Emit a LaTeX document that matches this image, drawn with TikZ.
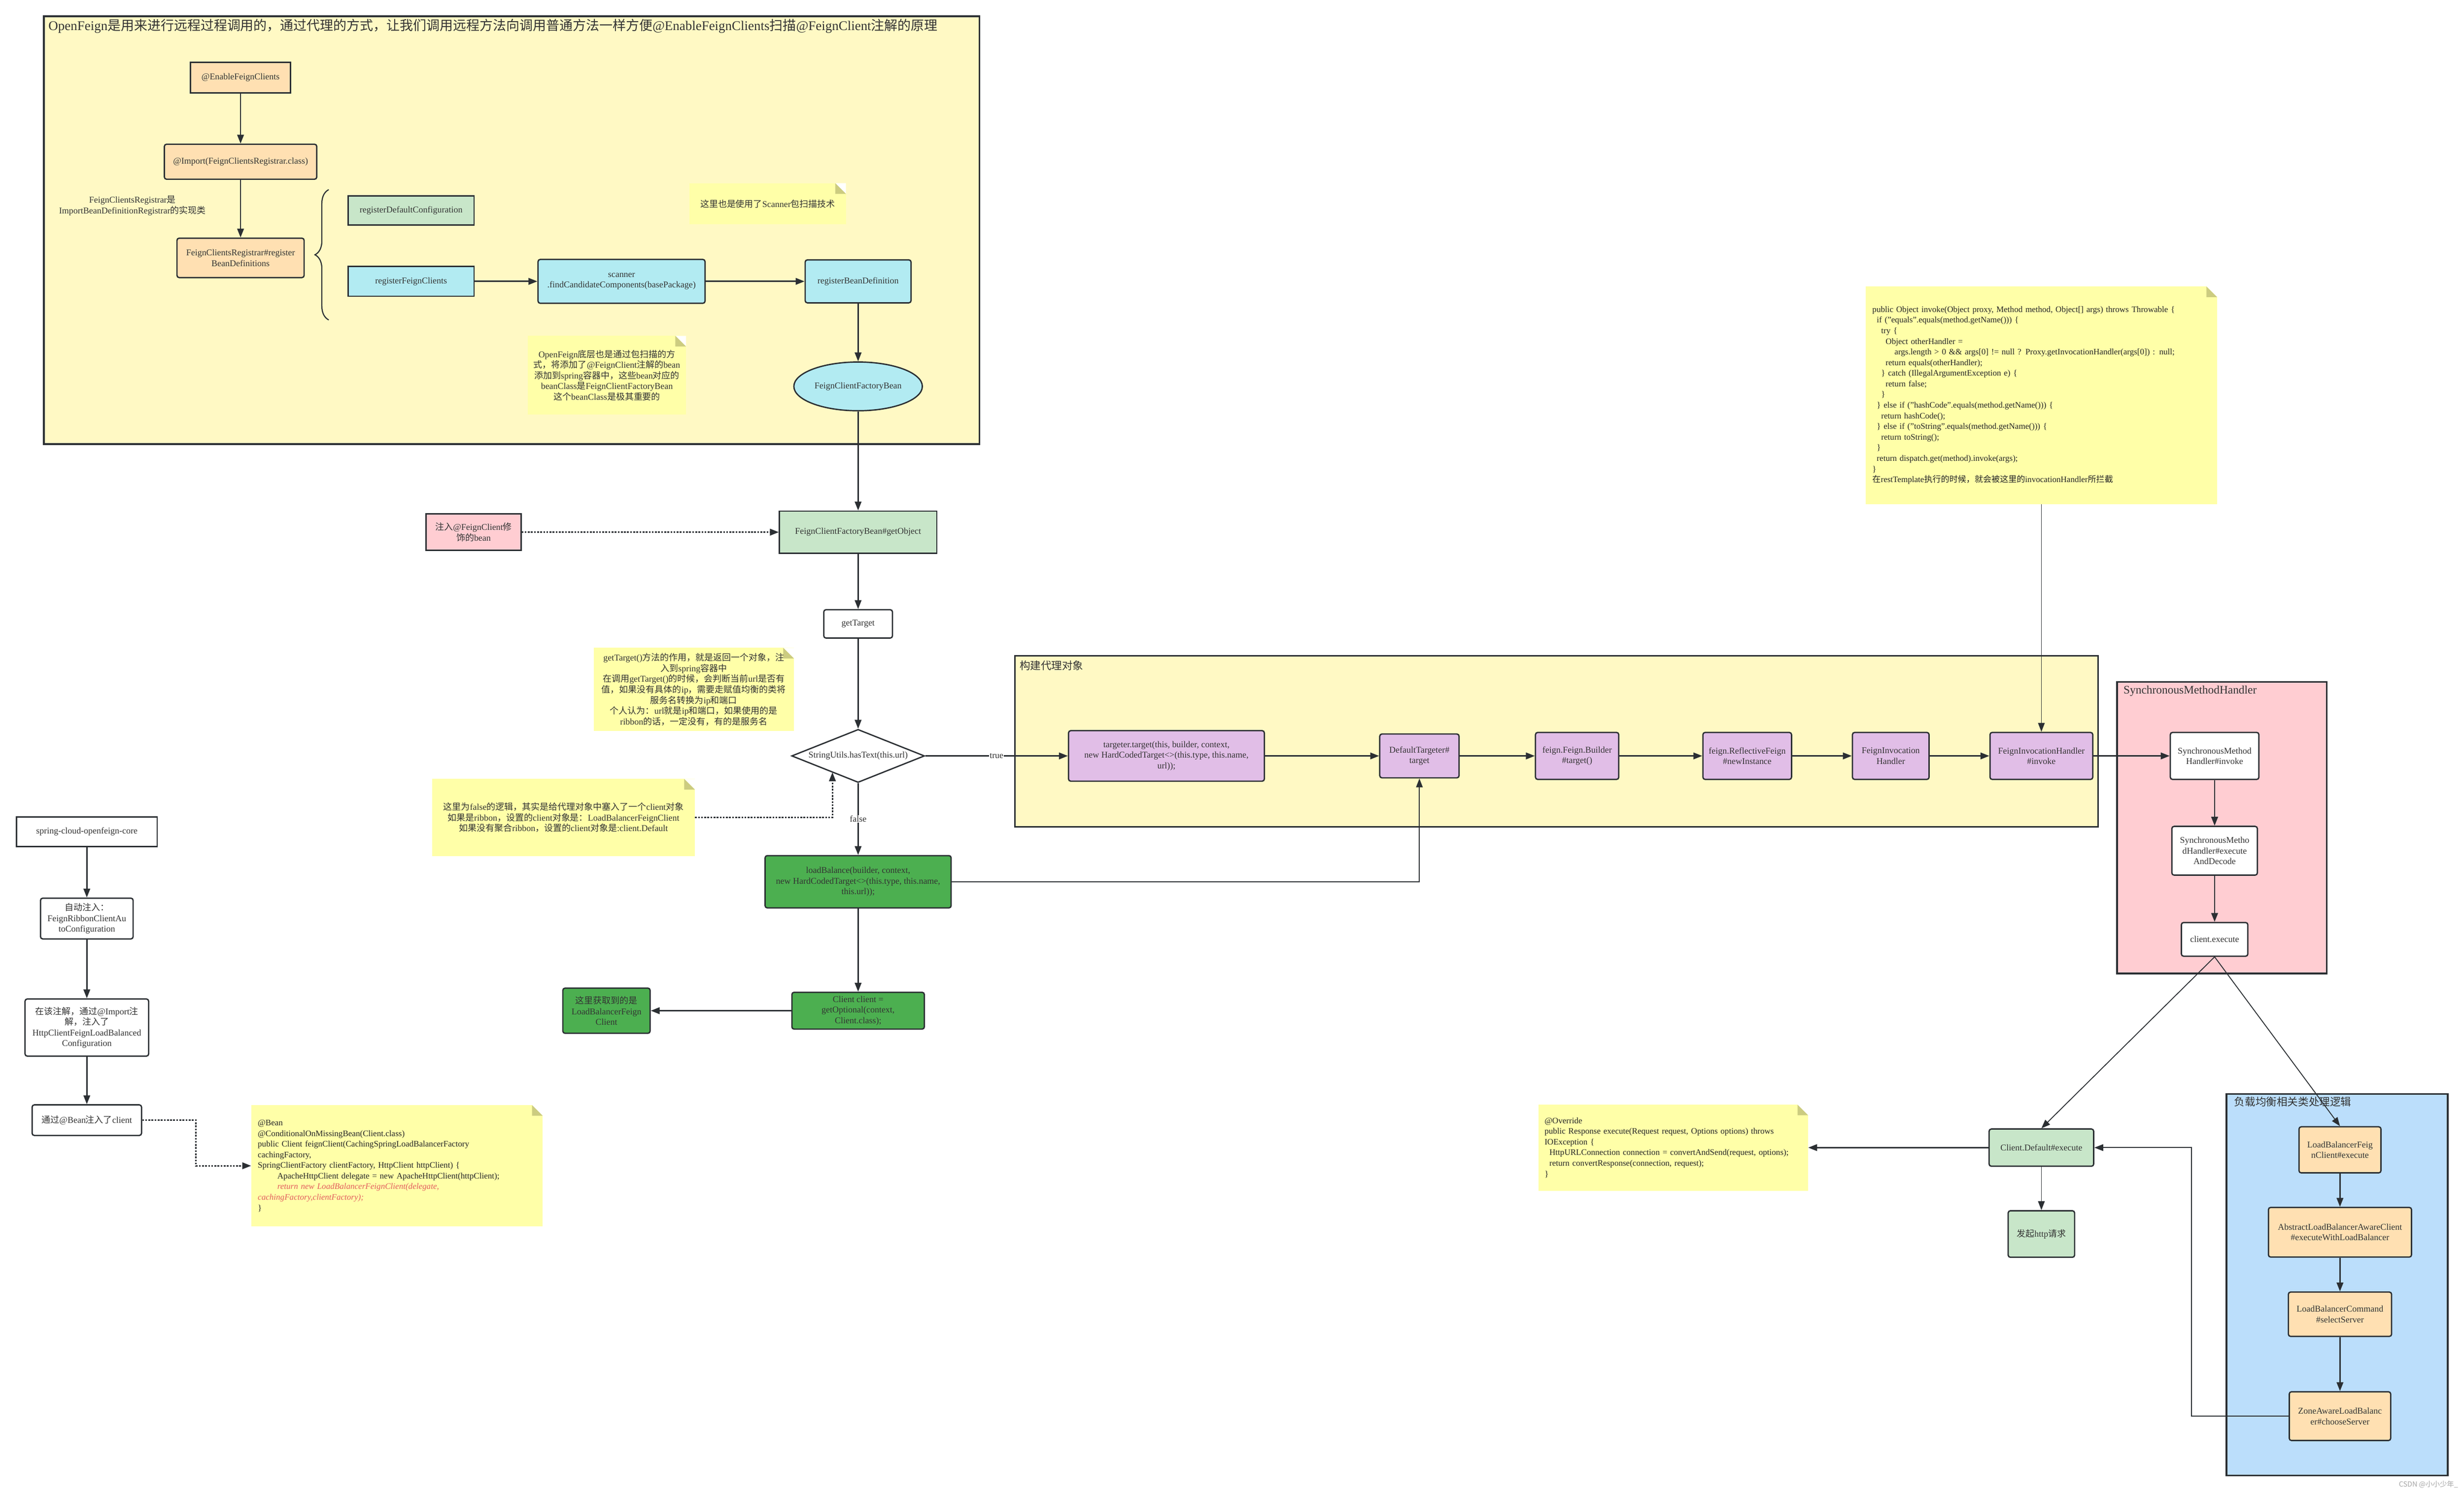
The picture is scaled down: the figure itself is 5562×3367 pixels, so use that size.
\documentclass[tikz,border=0pt]{standalone}
\usepackage{fontspec}
\setmainfont{Liberation Serif}
\newfontfamily\cjk{Noto Sans CJK SC}
\usetikzlibrary{arrows.meta, positioning, shapes.geometric, decorations.pathreplacing}

% switch to the CJK family for Chinese characters
\XeTeXinterchartokenstate=1
\newXeTeXintercharclass\cjkclass
\newcount\cjkcode
\def\setcjkrange#1#2{\cjkcode=#1\relax
  \loop\XeTeXcharclass\cjkcode=\cjkclass
  \ifnum\cjkcode<#2\advance\cjkcode by 1\repeat}
\setcjkrange{"3000}{"303F}
\setcjkrange{"4E00}{"9FFF}
\setcjkrange{"FF00}{"FFEF}
\def\mylatin{\rmfamily}
\XeTeXinterchartoks 0 \cjkclass = {\cjk}
\XeTeXinterchartoks 4095 \cjkclass = {\cjk}
\XeTeXinterchartoks \cjkclass 0 = {\mylatin}
\XeTeXinterchartoks 4095 0 = {\mylatin}

\definecolor{linec}{HTML}{2B2F33}
\definecolor{textc}{HTML}{333333}
\definecolor{panely}{HTML}{FFF9C4}
\definecolor{notey}{HTML}{FFFFA8}
\definecolor{foldc}{HTML}{CCCC80}
\definecolor{orangef}{HTML}{FFE0B2}
\definecolor{cyanf}{HTML}{B2EBF2}
\definecolor{greenl}{HTML}{C8E6C9}
\definecolor{pinkf}{HTML}{FFCDD2}
\definecolor{purplef}{HTML}{E1BEE7}
\definecolor{greend}{HTML}{4CAF50}
\definecolor{bluef}{HTML}{BBDEFB}
\definecolor{codered}{HTML}{E35D5D}

\newcommand\boxfont{\fontsize{20}{24}\selectfont}
\newcommand\codefont{\fontsize{19}{24}\selectfont}
\newcommand\titlefont{\fontsize{30}{36}\selectfont}
\newcommand\panelfont{\fontsize{24}{28}\selectfont}
\newcommand\flagfont{\fontsize{20}{22}\selectfont}

\tikzset{
  box/.style={draw=linec, line width=3pt, text=textc, align=center, inner sep=3pt, font=\boxfont},
  rbox/.style={box, rounded corners=5pt},
  flow/.style={draw=linec, line width=3pt, -{Triangle[length=20pt,width=15pt]}},
  thinflow/.style={flow, line width=2pt},
  dotflow/.style={flow, dash pattern=on 4pt off 3pt},
  panel/.style={draw=linec, line width=4pt},
  paneltitle/.style={font=\panelfont, text=textc, anchor=west},
  flag/.style={fill=white, text=textc, font=\flagfont, inner sep=1pt},
  note/.style={fill=notey, text=textc, font=\boxfont, align=center, inner sep=0pt,
    path picture={
      \fill[white] ([xshift=-24pt]path picture bounding box.north east) -- (path picture bounding box.north east)
        -- ([yshift=-24pt]path picture bounding box.north east) -- cycle;
      \fill[foldc] ([xshift=-24pt]path picture bounding box.north east) -- ([xshift=-24pt,yshift=-24pt]path picture bounding box.north east)
        -- ([yshift=-24pt]path picture bounding box.north east) -- cycle;
    }},
  codenote/.style={note, align=left, font=\codefont, text=black!85},
}

\begin{document}
\begin{tikzpicture}[x=1pt, y=-1pt]
\useasboundingbox (0,0) rectangle (5562,3367);

% panels
\draw[panel, fill=panely] (99,37) rectangle (2211,1002);
\node[font=\titlefont, text=textc, anchor=west] (title) at (106,59) {OpenFeign是用来进行远程过程调用的，通过代理的方式，让我们调用远程方法向调用普通方法一样方便@EnableFeignClients扫描@FeignClient注解的原理};
\draw[panel, fill=panely] (2291,1480) rectangle (4736,1866);
\node[paneltitle] (proxytitle) at (2298,1502) {构建代理对象};
\draw[panel, fill=pinkf] (4779,1539) rectangle (5252,2197);
\node[paneltitle, font=\fontsize{26}{30}\selectfont] (smhtitle) at (4790,1559) {SynchronousMethodHandler};
\draw[panel, fill=bluef] (5026,2469) rectangle (5525,3330);
\node[paneltitle] (lbtitle) at (5040,2487) {负载均衡相关类处理逻辑};

% notes
\node[note, minimum width=353pt, minimum height=93pt] (scannote) at (1733,460) {这里也是使用了Scanner包扫描技术};
\node[note, minimum width=357pt, minimum height=178pt] (beannote) at (1370,847) {OpenFeign底层也是通过包扫描的方\\式，将添加了@FeignClient注解的bean\\添加到spring容器中，这些bean对应的\\beanClass是FeignClientFactoryBean\\这个beanClass是极其重要的};
\node[note, minimum width=452pt, minimum height=188pt] (targetnote) at (1566,1556) {getTarget()方法的作用，就是返回一个对象，注\\入到spring容器中\\在调用getTarget()的时候，会判断当前url是否有\\值，如果没有具体的ip，需要走赋值均衡的类将\\服务名转换为ip和端口\\个人认为：url就是ip和端口，如果使用的是\\ribbon的话，一定没有，有的是服务名};
\node[note, minimum width=593pt, minimum height=174pt] (falsenote) at (1272,1845) {这里为false的逻辑，其实是给代理对象中塞入了一个client对象\\如果是ribbon，设置的client对象是：LoadBalancerFeignClient\\如果没有聚合ribbon，设置的client对象是:client.Default};
\node[codenote, minimum width=793pt, minimum height=491pt, text width=763pt] (invokenote) at (4608,892) {public Object invoke(Object proxy, Method method, Object[] args) throws Throwable \{\\
\hspace*{10pt}if ("equals".equals(method.getName())) \{\\
\hspace*{20pt}try \{\\
\hspace*{30pt}Object otherHandler =\\
\hspace*{50pt}args.length > 0 \&\& args[0] != null ? Proxy.getInvocationHandler(args[0]) : null;\\
\hspace*{30pt}return equals(otherHandler);\\
\hspace*{20pt}\} catch (IllegalArgumentException e) \{\\
\hspace*{30pt}return false;\\
\hspace*{20pt}\}\\
\hspace*{10pt}\} else if ("hashCode".equals(method.getName())) \{\\
\hspace*{20pt}return hashCode();\\
\hspace*{10pt}\} else if ("toString".equals(method.getName())) \{\\
\hspace*{20pt}return toString();\\
\hspace*{10pt}\}\\
\hspace*{10pt}return dispatch.get(method).invoke(args);\\
\}\\
在restTemplate执行的时候，就会被这里的invocationHandler所拦截};
\node[codenote, minimum width=658pt, minimum height=274pt, text width=628pt] (clientnote) at (896,2631) {@Bean\\
@ConditionalOnMissingBean(Client.class)\\
public Client feignClient(CachingSpringLoadBalancerFactory\\
cachingFactory,\\
SpringClientFactory clientFactory, HttpClient httpClient) \{\\
\hspace*{44pt}ApacheHttpClient delegate = new ApacheHttpClient(httpClient);\\
{\color{codered}\itshape\hspace*{44pt}return new LoadBalancerFeignClient(delegate,}\\
{\color{codered}\itshape cachingFactory,clientFactory);}\\
\}};
\node[codenote, minimum width=609pt, minimum height=194pt, text width=581pt] (overridenote) at (3777,2590) {@Override\\
public Response execute(Request request, Options options) throws\\
IOException \{\\
\hspace*{11pt}HttpURLConnection connection = convertAndSend(request, options);\\
\hspace*{11pt}return convertResponse(connection, request);\\
\}};

% registration
\node[box, fill=orangef, minimum width=226pt, minimum height=69pt] (enable) at (543,175) {@EnableFeignClients};
\node[rbox, fill=orangef, minimum width=344pt, minimum height=79pt] (import) at (543,365) {@Import(FeignClientsRegistrar.class)};
\node[rbox, fill=orangef, minimum width=287pt, minimum height=89pt] (registrar) at (543,582) {FeignClientsRegistrar\#register\\BeanDefinitions};
\node[font=\boxfont, text=textc, align=center] (reglabel) at (299,464) {FeignClientsRegistrar是\\ImportBeanDefinitionRegistrar的实现类};
\draw[linec, line width=2.5pt, decorate, decoration={brace, amplitude=31pt}] (742,722) -- (742,428);
\node[box, fill=greenl, minimum width=284pt, minimum height=66pt] (defconf) at (928,475) {registerDefaultConfiguration};
\node[box, fill=cyanf, minimum width=284pt, minimum height=67pt] (regclients) at (928,635) {registerFeignClients};
\node[rbox, fill=cyanf, minimum width=377pt, minimum height=99pt] (scanner) at (1403,635) {scanner\\.findCandidateComponents(basePackage)};
\node[rbox, fill=cyanf, minimum width=239pt, minimum height=97pt] (regbean) at (1937,635) {registerBeanDefinition};
\node[box, ellipse, fill=cyanf, minimum width=290pt, minimum height=110pt, inner sep=0pt] (factorybean) at (1937,872) {FeignClientFactoryBean};

% getObject / getTarget
\node[box, fill=greenl, minimum width=355pt, minimum height=95pt] (getobject) at (1937,1201) {FeignClientFactoryBean\#getObject};
\node[box, fill=pinkf, minimum width=214pt, minimum height=82pt] (inject) at (1069,1201) {注入@FeignClient修\\饰的bean};
\node[rbox, fill=white, minimum width=155pt, minimum height=64pt] (gettarget) at (1937,1408) {getTarget};
\node[box, diamond, aspect=2.5, fill=white, minimum width=300pt, minimum height=120pt, inner sep=0pt] (hastext) at (1937,1706) {StringUtils.hasText(this.url)};
\coordinate (diamhit) at (1879,1743);
\node[rbox, fill=greend, minimum width=420pt, minimum height=118pt] (loadbal) at (1937,1990) {loadBalance(builder, context,\\new HardCodedTarget<>(this.type, this.name,\\this.url));};
\node[rbox, fill=greend, minimum width=299pt, minimum height=83pt] (getclient) at (1937,2281) {Client client =\\getOptional(context,\\Client.class);};
\node[rbox, fill=greend, minimum width=197pt, minimum height=102pt] (lbclient) at (1369,2281) {这里获取到的是\\LoadBalancerFeign\\Client};

% proxy chain
\node[rbox, fill=purplef, minimum width=442pt, minimum height=114pt] (targeter) at (2633,1706) {targeter.target(this, builder, context,\\new HardCodedTarget<>(this.type, this.name,\\url));};
\node[rbox, fill=purplef, minimum width=179pt, minimum height=99pt] (deftargeter) at (3204,1706) {DefaultTargeter\#\\target};
\node[rbox, fill=purplef, minimum width=188pt, minimum height=106pt] (builder) at (3560,1706) {feign.Feign.Builder\\\#target()};
\node[rbox, fill=purplef, minimum width=200pt, minimum height=106pt] (reflective) at (3944,1706) {feign.ReflectiveFeign\\\#newInstance};
\node[rbox, fill=purplef, minimum width=173pt, minimum height=106pt] (handler) at (4268,1706) {FeignInvocation\\Handler};
\node[rbox, fill=purplef, minimum width=232pt, minimum height=106pt] (invoke) at (4608,1706) {FeignInvocationHandler\\\#invoke};

% SynchronousMethodHandler
\node[rbox, fill=white, minimum width=200pt, minimum height=106pt] (smhinvoke) at (4999,1706) {SynchronousMethod\\Handler\#invoke};
\node[rbox, fill=white, minimum width=193pt, minimum height=110pt] (smhexec) at (4999,1920) {SynchronousMetho\\dHandler\#execute\\AndDecode};
\node[rbox, fill=white, minimum width=150pt, minimum height=76pt] (clientexec) at (4999,2120) {client.execute};

% load balancing
\node[rbox, fill=orangef, minimum width=185pt, minimum height=104pt] (lbfeign) at (5282,2595) {LoadBalancerFeig\\nClient\#execute};
\node[rbox, fill=orangef, minimum width=323pt, minimum height=112pt] (abstractlb) at (5282,2781) {AbstractLoadBalancerAwareClient\\\#executeWithLoadBalancer};
\node[rbox, fill=orangef, minimum width=233pt, minimum height=100pt] (lbcommand) at (5282,2966) {LoadBalancerCommand\\\#selectServer};
\node[rbox, fill=orangef, minimum width=229pt, minimum height=110pt] (zoneaware) at (5282,3196) {ZoneAwareLoadBalanc\\er\#chooseServer};
\coordinate (lbturn) at (4947,3196);
\node[rbox, fill=greenl, minimum width=236pt, minimum height=84pt] (defexec) at (4608,2590) {Client.Default\#execute};
\node[rbox, fill=greenl, minimum width=150pt, minimum height=105pt] (http) at (4608,2785) {发起http请求};

% ribbon auto configuration
\node[box, fill=white, minimum width=318pt, minimum height=67pt] (core) at (196,1877) {spring-cloud-openfeign-core};
\node[rbox, fill=white, minimum width=209pt, minimum height=92pt] (autoinj) at (196,2073) {自动注入：\\FeignRibbonClientAu\\toConfiguration};
\node[rbox, fill=white, minimum width=279pt, minimum height=129pt] (httpcfg) at (196,2319) {在该注解，通过@Import注\\解，注入了\\HttpClientFeignLoadBalanced\\Configuration};
\node[rbox, fill=white, minimum width=247pt, minimum height=69pt] (beanclient) at (196,2528) {通过@Bean注入了client};
\coordinate (beanturn) at (442,2528);

% connectors
\draw[flow] (enable) -- (import);
\draw[flow] (import) -- (registrar);
\draw[flow] (regclients) -- (scanner);
\draw[flow] (scanner) -- (regbean);
\draw[flow] (regbean) -- (factorybean);
\draw[flow] (factorybean) -- (getobject);
\draw[dotflow] (inject) -- (getobject);
\draw[flow] (getobject) -- (gettarget);
\draw[flow] (gettarget) -- (hastext);
\draw[flow] (hastext) -- node[flag] {true} (targeter);
\draw[flow] (hastext) -- node[flag] {false} (loadbal);
\draw[dotflow] (falsenote.east) -| (diamhit);
\draw[flow] (loadbal) -- (getclient);
\draw[flow] (getclient) -- (lbclient);
\draw[thinflow] (loadbal.east) -| (deftargeter.south);
\draw[flow] (targeter) -- (deftargeter);
\draw[flow] (deftargeter) -- (builder);
\draw[flow] (builder) -- (reflective);
\draw[flow] (reflective) -- (handler);
\draw[flow] (handler) -- (invoke);
\draw[thinflow] (invokenote) -- (invoke);
\draw[flow] (invoke) -- (smhinvoke);
\draw[flow] (smhinvoke) -- (smhexec);
\draw[flow] (smhexec) -- (clientexec);
\draw[thinflow] (clientexec.south) -- (defexec.north);
\draw[thinflow] (clientexec.south) -- (lbfeign.north);
\draw[flow] (lbfeign) -- (abstractlb);
\draw[flow] (abstractlb) -- (lbcommand);
\draw[flow] (lbcommand) -- (zoneaware);
\draw[thinflow] (zoneaware.west) -- (lbturn) |- (defexec.east);
\draw[flow] (defexec) -- (overridenote);
\draw[thinflow] (defexec) -- (http);
\draw[flow] (core) -- (autoinj);
\draw[flow] (autoinj) -- (httpcfg);
\draw[flow] (httpcfg) -- (beanclient);
\draw[dotflow] (beanclient.east) -- (beanturn) |- (clientnote.west);

\node[font={\fontsize{16}{18}\cjk\let\mylatin\relax}, text=black!35, anchor=east] (mark) at (5552,3350) {CSDN @小小少年\_};
\end{tikzpicture}
\end{document}
